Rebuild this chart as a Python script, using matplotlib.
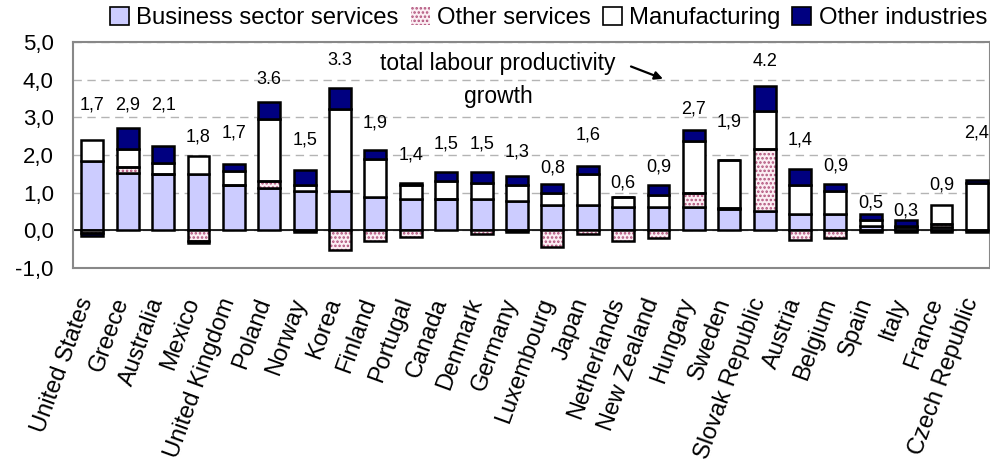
import numpy as np
import matplotlib
matplotlib.use("Agg")
import matplotlib.pyplot as plt
import matplotlib.transforms as mtransforms
from matplotlib.patches import Patch

countries = ["United States", "Greece", "Australia", "Mexico", "United Kingdom",
             "Poland", "Norway", "Korea", "Finland", "Portugal", "Canada",
             "Denmark", "Germany", "Luxembourg", "Japan", "Netherlands",
             "New Zealand", "Hungary", "Sweden", "Slovak Republic", "Austria",
             "Belgium", "Spain", "Italy", "France", "Czech Republic"]

business_services = [1.84, 1.53, 1.49, 1.49, 1.20, 1.14, 1.04, 1.04, 0.89, 0.83, 0.83, 0.83, 0.78,
                     0.67, 0.67, 0.62, 0.62, 0.62, 0.56, 0.51, 0.45, 0.45, 0.13, 0.08, 0.10, -0.05]
other_services = [-0.06, 0.16, 0.00, -0.28, 0.00, 0.17, -0.04, -0.53, -0.27, -0.16, 0.00, -0.10, -0.04,
                  -0.43, -0.10, -0.27, -0.20, 0.38, 0.03, 1.65, -0.25, -0.20, -0.04, -0.05, 0.08, 0.00]
manufacturing = [0.56, 0.47, 0.29, 0.49, 0.38, 1.65, 0.18, 2.19, 1.00, 0.37, 0.48, 0.43, 0.42,
                 0.33, 0.84, 0.27, 0.31, 1.38, 1.28, 1.01, 0.75, 0.59, 0.15, 0.03, 0.50, 1.26]
other_industries = [-0.08, 0.57, 0.47, -0.06, 0.18, 0.45, 0.38, 0.55, 0.24, 0.07, 0.23, 0.28, 0.24,
                    0.23, 0.20, 0.00, 0.29, 0.29, 0.00, 0.67, 0.44, 0.19, 0.15, 0.17, -0.03, 0.07]

# total labour productivity growth labels and the height they sit at
total_growth = ["1,7", "2,9", "2,1", "1,8", "1,7", "3.6", "1,5", "3.3", "1,9", "1,4", "1,5", "1,5", "1,3",
                "0,8", "1,6", "0,6", "0,9", "2,7", "1,9", "4.2", "1,4", "0,9", "0,5", "0,3", "0,9", "2,4"]
label_y = [3.33, 3.33, 3.33, 2.47, 2.60, 4.00, 2.40, 4.50, 2.85, 2.00, 2.30, 2.30, 2.08,
           1.66, 2.53, 1.25, 1.69, 3.22, 2.89, 4.49, 2.40, 1.71, 0.72, 0.53, 1.20, 2.58]

plt.rcParams["font.family"] = ["Liberation Sans", "DejaVu Sans"]
plt.rcParams["hatch.linewidth"] = 1.2

fig = plt.figure(figsize=(9.9, 4.68), dpi=100)
ax = fig.add_axes([0.074, 0.427, 0.926, 0.483])

x = np.arange(len(countries))
width = 0.62

series = [
    ("Business sector services", business_services, dict(color="#ccccff")),
    ("Other services", other_services, dict(color="#fbeef3", hatch="....", hatch_color="#b0507a")),
    ("Manufacturing", manufacturing, dict(color="white")),
    ("Other industries", other_industries, dict(color="#000080")),
]

pos_bottom = np.zeros(len(x))
neg_bottom = np.zeros(len(x))
handles = []
for name, vals, style in series:
    vals = np.array(vals)
    bottom = np.where(vals >= 0, pos_bottom, neg_bottom)
    if "hatch" in style:
        ax.bar(x, vals, width, bottom=bottom, color=style["color"],
               edgecolor=style["hatch_color"], hatch=style["hatch"], linewidth=0, zorder=3)
        ax.bar(x, vals, width, bottom=bottom, fill=False, edgecolor="black",
               linewidth=1.8, zorder=4)
        handles.append(Patch(facecolor=style["color"], edgecolor=style["hatch_color"],
                             hatch=style["hatch"], linewidth=0))
    else:
        ax.bar(x, vals, width, bottom=bottom, color=style["color"],
               edgecolor="black", linewidth=1.8, zorder=3)
        handles.append(Patch(facecolor=style["color"], edgecolor="black", linewidth=1.2))
    pos_bottom += np.where(vals >= 0, vals, 0)
    neg_bottom += np.where(vals < 0, vals, 0)

for xi, lab, ly in zip(x, total_growth, label_y):
    ax.text(xi, ly, lab, ha="center", va="center", fontsize=13)

ax.axhline(0, color="black", linewidth=1.2, zorder=2)
ax.set_ylim(-1, 5)
ax.set_xlim(-0.54, 25.37)
ax.set_yticks(np.arange(-1, 6))
ax.set_yticklabels([f"{v:.1f}".replace(".", ",") for v in np.arange(-1, 6)], fontsize=16)
ax.yaxis.grid(True, color="#b4b4b4", linestyle=(0, (6, 4)), linewidth=1)
ax.set_axisbelow(True)
ax.tick_params(axis="y", length=0, pad=14)
ax.tick_params(axis="x", length=0, pad=22)
ax.set_xticks(x)
ax.set_xticklabels(countries, rotation=70, ha="right", rotation_mode="anchor",
                   fontsize=17, va="center")
# nudge country names a little to the left
shift = mtransforms.ScaledTranslation(-5 / 100, 0, fig.dpi_scale_trans)
for lbl in ax.get_xticklabels():
    lbl.set_transform(lbl.get_transform() + shift)
for s in ax.spines.values():
    s.set_color("#888888")
    s.set_linewidth(1.5)

ax.text(11.47, 4.0, "total labour productivity\ngrowth", ha="center", va="center",
        fontsize=16.5, linespacing=1.55)
ax.annotate("", xy=(16.2, 4.0), xytext=(15.15, 4.38),
            arrowprops=dict(arrowstyle="-|>", color="black", lw=1.6, mutation_scale=12))

fig.legend(handles, [s[0] for s in series], loc="center right", ncol=4,
           bbox_to_anchor=(0.997, 0.962), frameon=False, fontsize=17.2,
           handlelength=0.8, handleheight=0.8, handletextpad=0.3, columnspacing=0.5,
           borderaxespad=0, borderpad=0)

fig.savefig("out.png", dpi=100)
